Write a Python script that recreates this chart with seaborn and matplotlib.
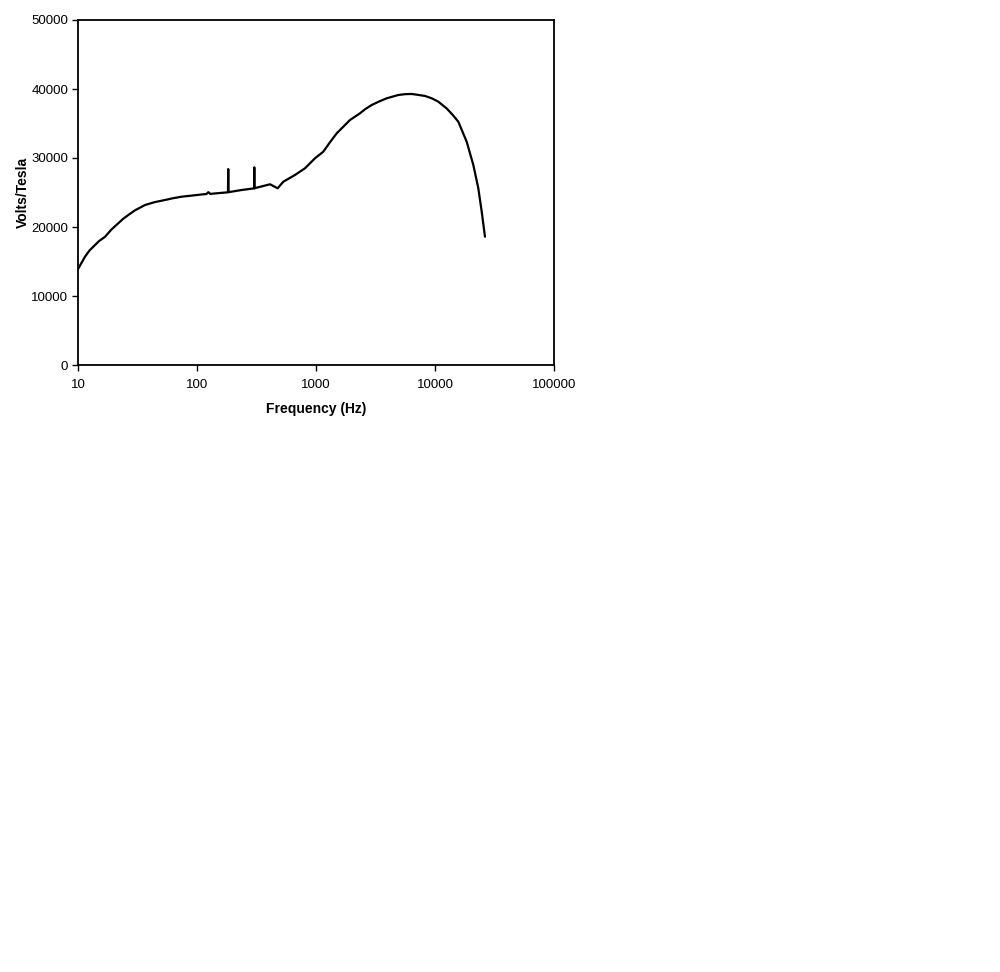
import matplotlib
matplotlib.use("Agg")
import matplotlib.pyplot as plt
import matplotlib.ticker as mticker
import seaborn as sns
import pandas as pd

# Data
frequency_hz = [10, 11.45, 12.5, 13.9, 15, 16.9, 19, 21.8, 24, 26.5, 30, 36.6, 44, 53.8, 62, 74.3, 90,
                113, 120, 124.5, 129,
                182, 183, 184, 237, 302, 303, 304, 411, 476, 531, 666, 808, 981,
                1151, 1300, 1493, 1931, 2343, 2600, 2938, 3400, 3926, 4916, 5600, 6368, 7200, 8240,
                9400, 10660, 12500, 14000, 15700,
                18460, 20990, 23120, 24690, 26300]
volts_per_tesla = [13900, 15700, 16600, 17390, 17950, 18590, 19600, 20540, 21200, 21740, 22400, 23190, 23600,
                   23910, 24150, 24390, 24550,
                   24740, 24780, 25050, 24800,
                   25030, 28400, 25050, 25360, 25600, 28650, 25620, 26190, 25610, 26560, 27540, 28510, 29960,
                   30910, 32200, 33580, 35510, 36480, 37100, 37680, 38200, 38650, 39130, 39250, 39280, 39150,
                   38990, 38650, 38160, 37200, 36300, 35260,
                   32360, 28990, 25610, 22220, 18590]

x_ticks = [10, 100, 1000, 10000, 100000]
y_ticks = [0, 10000, 20000, 30000, 40000, 50000]

df = pd.DataFrame({"Frequency (Hz)": frequency_hz, "Volts/Tesla": volts_per_tesla})

sns.set_style("ticks")
plt.rcParams["font.family"] = ["Liberation Sans", "DejaVu Sans"]

fig = plt.figure(figsize=(10, 9.72), dpi=100)
ax = fig.add_axes([0.078, 1 - 365 / 972, 0.476, 345 / 972])

sns.lineplot(data=df, x="Frequency (Hz)", y="Volts/Tesla", ax=ax,
             color="black", linewidth=1.6, estimator=None, sort=False)

ax.set_xscale("log")
ax.set_xlim(10, 100000)
ax.set_ylim(0, 50000)
ax.xaxis.set_major_locator(mticker.FixedLocator(x_ticks))
ax.xaxis.set_minor_locator(mticker.NullLocator())
ax.xaxis.set_major_formatter(mticker.FixedFormatter([str(t) for t in x_ticks]))
ax.set_yticks(y_ticks)
ax.set_yticklabels([str(t) for t in y_ticks])

for s in ax.spines.values():
    s.set_visible(True)
    s.set_color("black")
    s.set_linewidth(1.3)

ax.tick_params(axis="both", direction="out", length=4, width=1, colors="black",
               labelsize=9.5)
ax.tick_params(axis="x", pad=6)
ax.tick_params(axis="y", pad=3)

ax.set_xlabel("Frequency (Hz)", fontsize=10, fontweight="bold", labelpad=8, color="black")
ax.set_ylabel("Volts/Tesla", fontsize=10, fontweight="bold", labelpad=1, color="black")

fig.savefig("out.png", dpi=100, facecolor="white")
